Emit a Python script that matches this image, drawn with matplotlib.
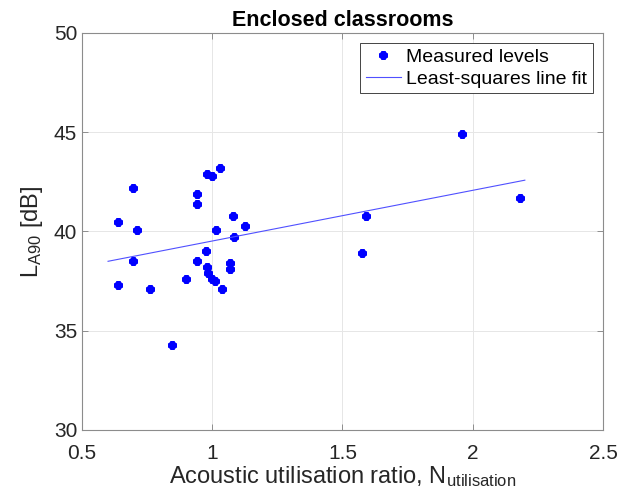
import numpy as np
import matplotlib
matplotlib.use("Agg")
import matplotlib.pyplot as plt

plt.rcParams['font.family'] = ['Liberation Sans', 'DejaVu Sans']
plt.rcParams['mathtext.fontset'] = 'custom'
plt.rcParams['mathtext.rm'] = 'Liberation Sans'
plt.rcParams['mathtext.it'] = 'Liberation Sans'

# measured points
ratio = [0.697, 0.637, 0.712, 0.697, 0.637, 0.760, 0.898, 0.845, 0.943, 0.940,
         0.980, 1.000, 1.031, 1.081, 1.124, 1.016, 1.082, 0.975, 0.943, 0.981,
         0.982, 1.000, 1.011, 1.036, 1.067, 1.067, 1.959, 2.180, 1.591, 1.576]
la90 = [42.2, 40.5, 40.1, 38.5, 37.3, 37.1, 37.6, 34.3, 41.9, 41.4,
        42.9, 42.8, 43.2, 40.8, 40.3, 40.1, 39.7, 39.0, 38.5, 38.2,
        37.9, 37.6, 37.5, 37.1, 38.4, 38.1, 44.9, 41.7, 40.8, 38.9]
fit_range = [0.6, 2.2]

xticks = [0.5, 1, 1.5, 2, 2.5]
xticklabels = ['0.5', '1', '1.5', '2', '2.5']
yticks = [30, 35, 40, 45, 50]

# least-squares line
p = np.polyfit(ratio, la90, 1)
xf = np.array(fit_range)
yf = np.polyval(p, xf)

fig = plt.figure(figsize=(6.18, 4.99), dpi=100)
ax = fig.add_axes([0.1327, 0.1383, 0.843, 0.7956])

ax.plot(ratio, la90, linestyle='none', marker=(8, 2, 0), markersize=5.8,
        markeredgewidth=2.6, color='#0000ff', label='Measured levels')
ax.plot(xf, yf, color='#5050ff', linewidth=0.8, label='Least-squares line fit')

ax.set_xlim(0.5, 2.5)
ax.set_ylim(30, 50)
ax.set_xticks(xticks)
ax.set_xticklabels(xticklabels)
ax.set_yticks(yticks)
ax.grid(True, color='#e6e6e6', linewidth=0.7)
ax.set_axisbelow(True)
ax.tick_params(direction='in', length=4, width=0.6, colors='#808080',
               labelcolor='#262626', labelsize=15, top=True, right=True)
ax.tick_params(axis='x', pad=10)
for s in ax.spines.values():
    s.set_color('#8c8c8c')
    s.set_linewidth(0.8)

ax.set_title('Enclosed classrooms', fontsize=15.5, fontweight='bold', pad=5)
ax.set_xlabel(r'Acoustic utilisation ratio, N$_{\mathrm{utilisation}}$',
              fontsize=17, color='#262626', labelpad=1)
ax.set_ylabel(r'L$_{\mathrm{A90}}$ [dB]', fontsize=17, color='#262626', labelpad=6)

leg = ax.legend(loc='upper right', fontsize=14, fancybox=False, framealpha=1,
                edgecolor='#262626', borderpad=0.3, handlelength=1.8,
                handletextpad=0.3, labelspacing=0.2, borderaxespad=0.5)
leg.get_frame().set_linewidth(0.6)

fig.savefig('out.png', dpi=100)
